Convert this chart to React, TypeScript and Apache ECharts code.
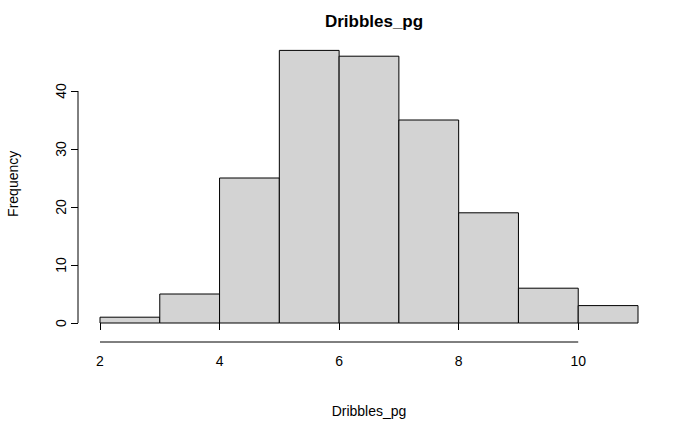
import { useEffect, useRef } from 'react';
import * as echarts from 'echarts';

const binStarts = [2, 3, 4, 5, 6, 7, 8, 9, 10];
const binWidth = 1;
const counts = [1, 5, 25, 47, 46, 35, 19, 6, 3];
const xTicks = [2, 4, 6, 8, 10];
const yTicks = [0, 10, 20, 30, 40];

const font = 'Liberation Sans, Arial, sans-serif';

export default function App() {
  const ref = useRef<HTMLDivElement>(null);

  useEffect(() => {
    if (!ref.current) return;
    const chart = echarts.init(ref.current, undefined, { renderer: 'svg' });

    chart.setOption({
      animation: false,
      backgroundColor: '#fff',
      title: {
        text: 'Dribbles_pg',
        left: 369,
        top: 8,
        textAlign: 'center',
        textStyle: { fontFamily: font, fontWeight: 'bold', fontSize: 17, color: '#000' },
      },
      grid: { left: 100, right: 62, top: 44.6, bottom: 109, outerBoundsMode: 'none', containLabel: false },
      xAxis: {
        type: 'value',
        min: 2,
        max: 11,
        offset: 19,
        name: 'Dribbles_pg',
        nameLocation: 'middle',
        nameGap: 62,
        nameTextStyle: { fontFamily: font, fontSize: 14, color: '#000' },
        axisLine: { show: false },
        axisTick: { show: true, length: 7, customValues: xTicks, lineStyle: { color: '#000' } },
        axisLabel: { fontFamily: font, fontSize: 14, color: '#000', margin: 12, customValues: xTicks },
        splitLine: { show: false },
      },
      yAxis: {
        type: 'value',
        min: 0,
        max: 48,
        offset: 22,
        name: 'Frequency',
        nameLocation: 'middle',
        nameGap: 58,
        nameRotate: 90,
        nameTextStyle: { fontFamily: font, fontSize: 14, color: '#000' },
        axisLine: { show: false },
        axisTick: { show: true, length: 7, customValues: yTicks, lineStyle: { color: '#000' } },
        axisLabel: { fontFamily: font, fontSize: 14, color: '#000', rotate: 90, margin: 10, customValues: yTicks },
        splitLine: { show: false },
      },
      series: [
        {
          type: 'custom',
          data: binStarts.map((s, i) => [s, s + binWidth, counts[i]]),
          renderItem: (_params: any, api: any) => {
            const p0 = api.coord([api.value(0), 0]);
            const p1 = api.coord([api.value(1), api.value(2)]);
            return {
              type: 'rect',
              shape: { x: p0[0], y: p1[1], width: p1[0] - p0[0], height: p0[1] - p1[1] },
              style: { fill: '#D3D3D3', stroke: '#000', lineWidth: 1 },
            };
          },
        },
      ],
    });

    const a = chart.convertToPixel({ gridIndex: 0 }, [xTicks[0], yTicks[0]]) as number[];
    const b = chart.convertToPixel({ gridIndex: 0 }, [xTicks[xTicks.length - 1], yTicks[yTicks.length - 1]]) as number[];
    chart.setOption({
      graphic: [
        { type: 'line', shape: { x1: a[0], y1: a[1] + 19, x2: b[0], y2: a[1] + 19 }, style: { stroke: '#000', lineWidth: 1 } },
        { type: 'line', shape: { x1: a[0] - 22, y1: a[1], x2: a[0] - 22, y2: b[1] }, style: { stroke: '#000', lineWidth: 1 } },
      ],
    });

    return () => chart.dispose();
  }, []);

  return <div ref={ref} style={{ width: 700, height: 432, position: 'absolute', left: 0, top: 0 }} />;
}
